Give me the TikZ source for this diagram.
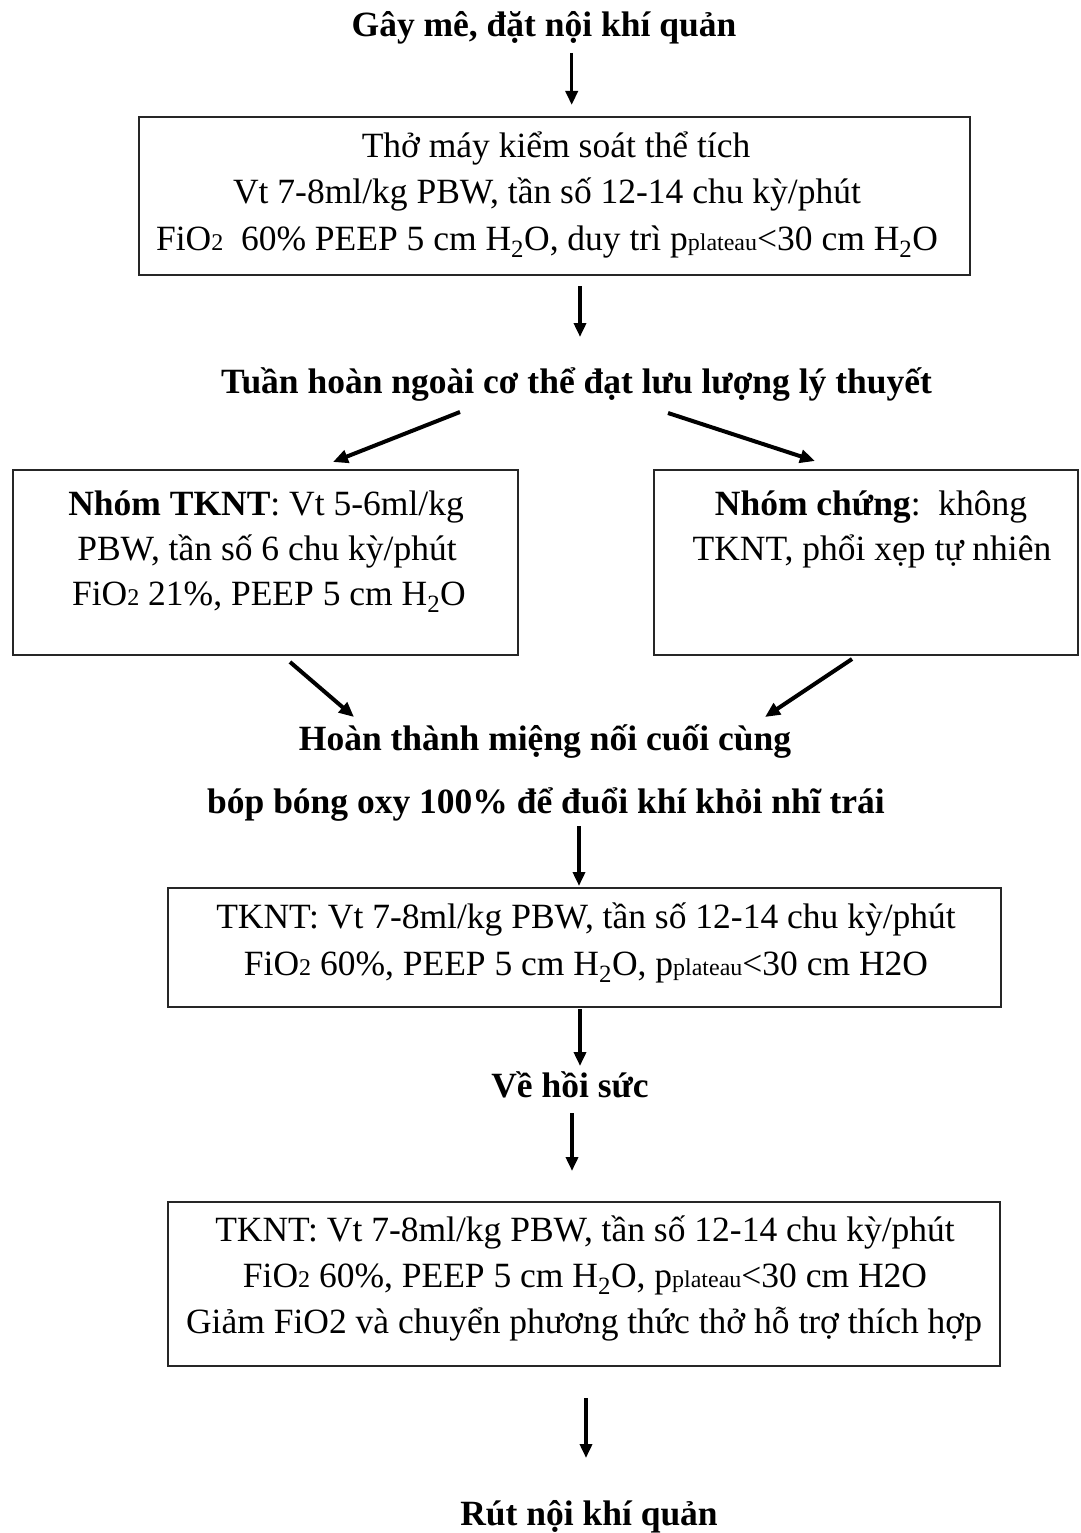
\documentclass[tikz,border=0pt]{standalone}
\usepackage{fontspec}
\setmainfont{Liberation Serif}
\usetikzlibrary{arrows.meta,calc}

% smaller glyphs set on the baseline (FiO2, p-plateau)
\newcommand\lowsz[1]{{\fontsize{24}{24}\selectfont #1}}
\newcommand\water{H\textsubscript{2}O}

\tikzset{
  txt/.style={inner sep=0pt, anchor=base, font=\fontsize{35.5}{46}\selectfont},
  ttl/.style={txt, font=\fontsize{35.5}{46}\selectfont\bfseries},
  framebox/.style={draw=black!85, line width=2pt, rectangle, inner sep=0pt},
  arr/.style={-{Triangle[length=14pt,width=12pt]}, line width=3.5pt, black},
  darr/.style={-{Triangle[length=15pt,width=13pt]}, line width=4pt, black}
}

\begin{document}
\begin{tikzpicture}[x=1pt,y=-1pt]
\useasboundingbox (0,0) rectangle (1080,1533);

% headings between the steps
\node[ttl] (t1) at (544,37) {Gây mê, đặt nội khí quản};
\node[ttl] (t2) at (576.5,393) {Tuần hoàn ngoài cơ thể đạt lưu lượng lý thuyết};
\node[ttl] (t3) at (545,750) {Hoàn thành miệng nối cuối cùng};
\node[ttl] (t4) at (546,813) {bóp bóng oxy 100\% để đuổi khí khỏi nhĩ trái};
\node[ttl] (t5) at (570,1097) {Về hồi sức};
\node[ttl] (t6) at (589,1525) {Rút nội khí quản};

% frames
\node[framebox, minimum width=831, minimum height=158] (B1) at (554.5,196) {};
\node[framebox, minimum width=505, minimum height=185] (B2) at (265.5,562.5) {};
\node[framebox, minimum width=424, minimum height=185] (B3) at (866,562.5) {};
\node[framebox, minimum width=833, minimum height=119] (B4) at (584.5,947.5) {};
\node[framebox, minimum width=832, minimum height=164] (B5) at (584,1284) {};

% frame texts
\node[txt] (B1a) at (556,158) {Thở máy kiểm soát thể tích};
\node[txt] (B1b) at (547,204) {Vt 7-8ml/kg PBW, tần số 12-14 chu kỳ/phút};
\node[txt] (B1c) at (547,250) {FiO\lowsz{2}\ \ 60\% PEEP 5 cm \water, duy trì p\lowsz{plateau}<30 cm \water};

\node[txt] (B2a) at (266,515) {\textbf{Nhóm TKNT}: Vt 5-6ml/kg};
\node[txt] (B2b) at (267,560) {PBW, tần số 6 chu kỳ/phút};
\node[txt] (B2c) at (269,605) {FiO\lowsz{2} 21\%, PEEP 5 cm \water};

\node[txt] (B3a) at (871,515) {\textbf{Nhóm chứng}:\ \ không};
\node[txt] (B3b) at (872,560) {TKNT, phổi xẹp tự nhiên};

\node[txt] (B4a) at (586,928) {TKNT: Vt 7-8ml/kg PBW, tần số 12-14 chu kỳ/phút};
\node[txt] (B4b) at (586,975) {FiO\lowsz{2} 60\%, PEEP 5 cm \water, p\lowsz{plateau}<30 cm H2O};

\node[txt] (B5a) at (585,1241) {TKNT: Vt 7-8ml/kg PBW, tần số 12-14 chu kỳ/phút};
\node[txt] (B5b) at (585,1287) {FiO\lowsz{2} 60\%, PEEP 5 cm \water, p\lowsz{plateau}<30 cm H2O};
\node[txt] (B5c) at (584,1333) {Giảm FiO2 và chuyển phương thức thở hỗ trợ thích hợp};

% connectors
\draw[arr] ($(t1.base)+(27.7,16)$) -- ($(B1.north)+(17.2,-11)$);
\draw[arr] ($(B1.south)+(25.5,10)$) -- ($(t2.base)+(3.5,-56)$);
\draw[darr] ($(t2.base)+(-116.5,19)$) -- ($(B2.north)+(67.5,-7)$);
\draw[darr] ($(t2.base)+(91.5,20)$) -- ($(B3.north)+(-51,-8)$);
\draw[darr] ($(B2.south)+(24.5,6)$) -- ($(t3.base)+(-191,-33)$);
\draw[darr] ($(B3.south)+(-14,3)$) -- ($(t3.base)+(220,-33)$);
\draw[arr] ($(t4.base)+(33,13)$) -- ($(B4.north)+(-5.5,-1)$);
\draw[arr] ($(B4.south)+(-4.5,1)$) -- ($(t5.base)+(10,-31)$);
\draw[arr] ($(t5.base)+(2,16)$) -- ($(B5.north)+(-12,-30)$);
\draw[arr] ($(B5.south)+(2,31)$) -- ($(t6.base)+(-3,-67)$);
\end{tikzpicture}
\end{document}
